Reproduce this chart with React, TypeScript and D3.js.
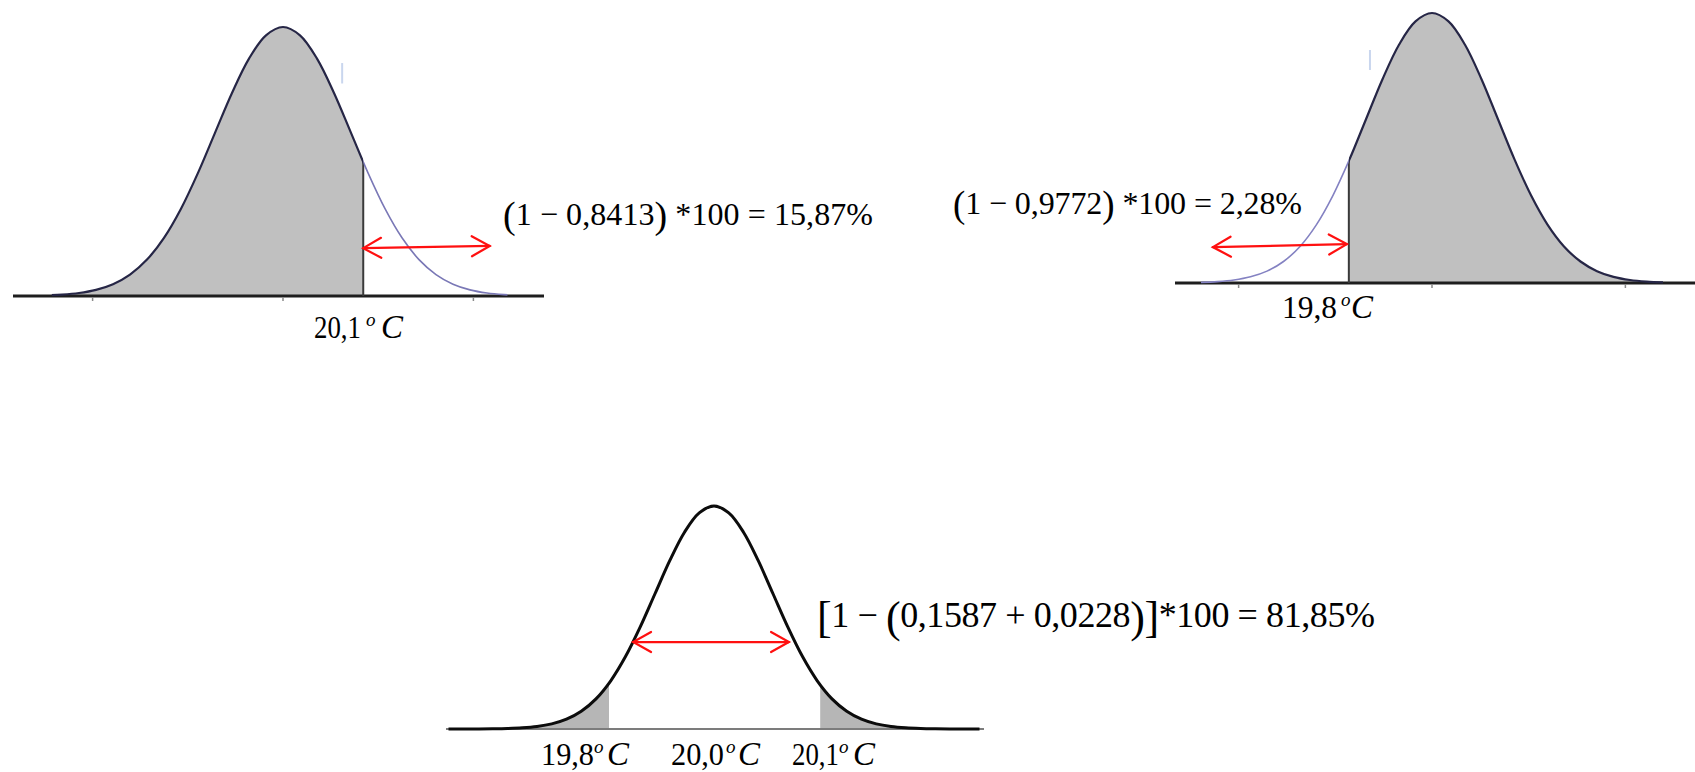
import React from "react";
import * as d3 from "d3";

// ---- data ----
// standardized positions (z) and relative heights of the bell curves (peak = 1)
const halfZ = [0, 0.25, 0.5, 0.75, 1, 1.25, 1.5, 1.75, 2, 2.25, 2.5, 2.75, 3, 3.25, 3.5, 3.75, 4, 4.25, 4.5];
const halfH = [1, 0.969, 0.8825, 0.7548, 0.6065, 0.4578, 0.3247, 0.2163, 0.1353, 0.0796, 0.0439, 0.0228, 0.0111, 0.0051, 0.0022, 0.0009, 0.0003, 0.0001, 0];
const curveZ = [...halfZ.slice(1).map((z) => -z).reverse(), ...halfZ];
const curveH = [...halfH.slice(1).reverse(), ...halfH];

// cut-off positions (in z) of each panel
const cut1 = 1.18; // 20,1 °C
const cut2 = -1.26; // 19,8 °C
const cut3Low = -1.78; // 19,8 °C
const cut3High = 1.8; // 20,1 °C

// axis ticks (in z)
const ticks1 = [-2.8, 0, 2.8];
const ticks2 = [-2.93, 0, 2.93];

// arrows: [zStart, hStart, zEnd, hEnd]
const arrow1 = [1.18, 0.178, 3.04, 0.186];
const arrow2 = [-3.32, 0.133, -1.29, 0.144];
const arrow3 = [-1.37, 0.39, 1.27, 0.39];

// texts
const label1 = "20,1";
const label2 = "19,8";
const labels3 = ["19,8", "20,0", "20,1"];
const formula1 = ["(", "1 − 0,8413", ")", " *100 = 15,87%"];
const formula2 = ["(", "1 − 0,9772", ")", " *100 = 2,28%"];
const formula3 = ["[", "1 − ", "(", "0,1587 + 0,0228", ")", "]", "*100 = 81,85%"];

// ---- layout ----
type Layout = { cx: number; sigmaPx: number; baseY: number; peakY: number; zMin: number; zMax: number; axis: [number, number] };
const L1: Layout = { cx: 283, sigmaPx: 68, baseY: 296, peakY: 27, zMin: -3.4, zMax: 3.3, axis: [13, 544] };
const L2: Layout = { cx: 1432, sigmaPx: 66, baseY: 283, peakY: 13, zMin: -3.5, zMax: 3.5, axis: [1175, 1695] };
const L3: Layout = { cx: 714, sigmaPx: 59, baseY: 729, peakY: 506, zMin: -4.55, zMax: 4.58, axis: [446, 984] };

const FONT = "'Liberation Serif','Times New Roman',serif";

function scales(L: Layout) {
  const xs = d3.scaleLinear().domain([0, 1]).range([L.cx, L.cx + L.sigmaPx]);
  const ys = d3.scaleLinear().domain([0, 1]).range([L.baseY, L.peakY]);
  return { xs, ys };
}

function Bell(props: any) {
  const { id, L, shade, dark, light, cuts, ticks, fill, darkStroke, lightStroke, darkW, lightW, baseStroke, baseW } = props;
  const { xs, ys } = scales(L);
  const idx = d3.range(curveZ.length);
  const areaD = d3
    .area<number>()
    .x((i) => xs(curveZ[i]))
    .y0(L.baseY)
    .y1((i) => ys(curveH[i]))
    .curve(d3.curveCatmullRom)(idx) as string;
  const lineD = d3
    .line<number>()
    .x((i) => xs(curveZ[i]))
    .y((i) => ys(curveH[i]))
    .curve(d3.curveCatmullRom)(idx) as string;
  const rect = (r: number[], k: number) => (
    <rect key={k} x={xs(r[0])} y={0} width={xs(r[1]) - xs(r[0])} height={772} />
  );
  return (
    <g>
      <defs>
        <clipPath id={`${id}-range`}>{rect([L.zMin, L.zMax], 0)}</clipPath>
        <clipPath id={`${id}-shade`}>{shade.map(rect)}</clipPath>
        <clipPath id={`${id}-dark`}>{dark.map(rect)}</clipPath>
        <clipPath id={`${id}-light`}>{light.map(rect)}</clipPath>
        <clipPath id={`${id}-area`}>
          <path d={areaD} />
        </clipPath>
      </defs>
      <g clipPath={`url(#${id}-range)`}>
        <g clipPath={`url(#${id}-shade)`}>
          <path d={areaD} fill={fill} />
        </g>
      </g>
      <line x1={L.axis[0]} x2={L.axis[1]} y1={L.baseY} y2={L.baseY} stroke={baseStroke} strokeWidth={baseW} />
      {ticks.map((t: number, i: number) => (
        <line key={i} x1={xs(t)} x2={xs(t)} y1={L.baseY + 1} y2={L.baseY + 5} stroke="#8a8a8a" strokeWidth={1.5} />
      ))}
      <g clipPath={`url(#${id}-range)`}>
        <g clipPath={`url(#${id}-area)`}>
          {cuts.map((c: number, i: number) => (
            <line key={i} x1={xs(c)} x2={xs(c)} y1={L.baseY} y2={L.peakY - 5} stroke="#3a3a3a" strokeWidth={2} />
          ))}
        </g>
        <g clipPath={`url(#${id}-light)`}>
          <path d={lineD} fill="none" stroke={lightStroke} strokeWidth={lightW} />
        </g>
        <g clipPath={`url(#${id}-dark)`}>
          <path d={lineD} fill="none" stroke={darkStroke} strokeWidth={darkW} />
        </g>
      </g>
    </g>
  );
}

function Arrow({ L, a }: { L: Layout; a: number[] }) {
  const { xs, ys } = scales(L);
  const x1 = xs(a[0]), y1 = ys(a[1]), x2 = xs(a[2]), y2 = ys(a[3]);
  const len = 20.5;
  const spread = 0.51;
  const head = (x: number, y: number, dir: number) => {
    const b1 = dir + Math.PI - spread;
    const b2 = dir + Math.PI + spread;
    return `M${x + len * Math.cos(b1)},${y + len * Math.sin(b1)}L${x},${y}L${x + len * Math.cos(b2)},${y + len * Math.sin(b2)}`;
  };
  const dir = Math.atan2(y2 - y1, x2 - x1);
  return (
    <g stroke="#ff1010" strokeWidth={2.2} fill="none" strokeLinecap="round">
      <line x1={x1} y1={y1} x2={x2} y2={y2} />
      <path d={head(x2, y2, dir)} />
      <path d={head(x1, y1, dir + Math.PI)} />
    </g>
  );
}

function TempLabel({ x, y, num, len, ox, cx }: any) {
  return (
    <g fontFamily={FONT} fill="#000">
      <text x={x} y={y} fontSize={32} textLength={len} lengthAdjust="spacingAndGlyphs">
        {num}
      </text>
      <text x={x + ox} y={y - 12} fontSize={19} fontStyle="italic">
        o
      </text>
      <text x={x + cx} y={y} fontSize={33} fontStyle="italic">
        C
      </text>
    </g>
  );
}

function Faint({ L, z, h0, h1 }: any) {
  const { xs, ys } = scales(L);
  return <line x1={xs(z)} x2={xs(z)} y1={ys(h0)} y2={ys(h1)} stroke="#c9d6ee" strokeWidth={2} />;
}

export default function App() {
  return (
    <svg
      width={1695}
      height={772}
      style={{ position: "absolute", left: 0, top: 0, background: "#fff" }}
      fontFamily={FONT}
    >
      <rect width={1695} height={772} fill="#fff" />

      {/* Panel 1 */}
      <Bell
        id="p1"
        L={L1}
        shade={[[L1.zMin, cut1]]}
        dark={[[L1.zMin, cut1]]}
        light={[[cut1, L1.zMax]]}
        cuts={[cut1]}
        ticks={ticks1}
        fill="#c0c0c0"
        darkStroke="#262646"
        lightStroke="#7a78b6"
        darkW={2.2}
        lightW={1.6}
        baseStroke="#1e1e1e"
        baseW={3}
      />
      <Faint L={L1} z={0.87} h0={0.79} h1={0.866} />
      <Arrow L={L1} a={arrow1} />
      <TempLabel x={314} y={338} num={label1} len={47} ox={52} cx={67} />
      <text x={503} y={225} fontSize={32} fill="#000" textLength={370} lengthAdjust="spacing">
        <tspan fontSize={38} dy={3}>{formula1[0]}</tspan>
        <tspan dy={-3}>{formula1[1]}</tspan>
        <tspan fontSize={38} dy={3}>{formula1[2]}</tspan>
        <tspan dy={-3}>{formula1[3]}</tspan>
      </text>

      {/* Panel 2 */}
      <Bell
        id="p2"
        L={L2}
        shade={[[cut2, L2.zMax]]}
        dark={[[cut2, L2.zMax]]}
        light={[[L2.zMin, cut2]]}
        cuts={[cut2]}
        ticks={ticks2}
        fill="#c0c0c0"
        darkStroke="#262646"
        lightStroke="#8482c2"
        darkW={2.2}
        lightW={1.6}
        baseStroke="#1e1e1e"
        baseW={3}
      />
      <Faint L={L2} z={-0.94} h0={0.789} h1={0.863} />
      <Arrow L={L2} a={arrow2} />
      <TempLabel x={1282} y={318} num={label2} len={55} ox={59} cx={69} />
      <text x={953} y={214} fontSize={32} fill="#000" textLength={349} lengthAdjust="spacing">
        <tspan fontSize={37} dy={3}>{formula2[0]}</tspan>
        <tspan dy={-3}>{formula2[1]}</tspan>
        <tspan fontSize={37} dy={3}>{formula2[2]}</tspan>
        <tspan dy={-3}>{formula2[3]}</tspan>
      </text>

      {/* Panel 3 */}
      <Bell
        id="p3"
        L={L3}
        shade={[
          [L3.zMin, cut3Low],
          [cut3High, L3.zMax],
        ]}
        dark={[[L3.zMin, L3.zMax]]}
        light={[]}
        cuts={[]}
        ticks={[]}
        fill="#b6b6b6"
        darkStroke="#0c0c0c"
        lightStroke="#0c0c0c"
        darkW={3}
        lightW={3}
        baseStroke="#7c7c7c"
        baseW={2}
      />
      <Arrow L={L3} a={arrow3} />
      <TempLabel x={541} y={765} num={labels3[0]} len={53} ox={53} cx={66} />
      <TempLabel x={671} y={765} num={labels3[1]} len={53} ox={55} cx={67} />
      <TempLabel x={792} y={765} num={labels3[2]} len={47} ox={47} cx={61} />
      <text x={817} y={627} fontSize={36} fill="#000" textLength={558} lengthAdjust="spacing">
        <tspan fontSize={44} dy={5}>{formula3[0]}</tspan>
        <tspan dy={-5}>{formula3[1]}</tspan>
        <tspan fontSize={44} dy={5}>{formula3[2]}</tspan>
        <tspan dy={-5}>{formula3[3]}</tspan>
        <tspan fontSize={44} dy={5}>{formula3[4]}</tspan>
        <tspan fontSize={44}>{formula3[5]}</tspan>
        <tspan dy={-5}>{formula3[6]}</tspan>
      </text>
    </svg>
  );
}
